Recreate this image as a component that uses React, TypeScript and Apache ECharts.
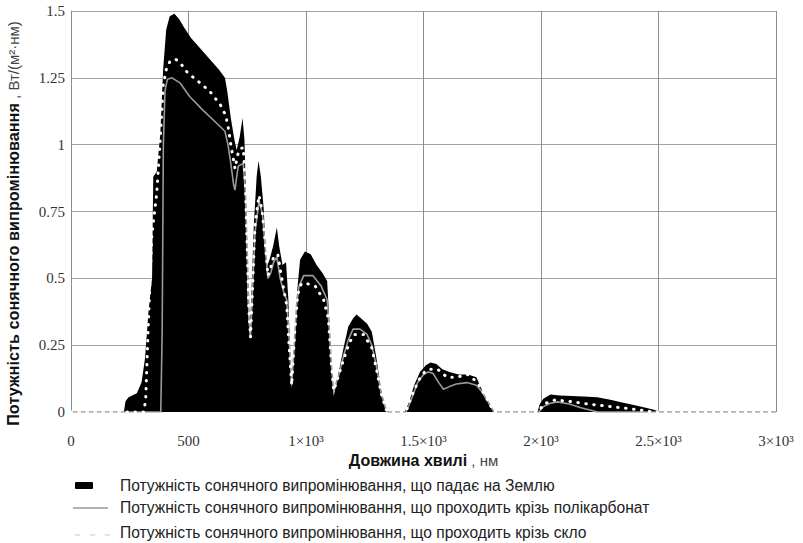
import React, { useEffect, useRef } from "react";
import * as echarts from "echarts";

const xTicks = [0, 500, 1000, 1500, 2000, 2500, 3000];
const xTickLabels = ["0", "500", "1×10³", "1.5×10³", "2×10³", "2.5×10³", "3×10³"];

const legendNames = [
  "Потужність сонячного випромінювання, що падає на Землю",
  "Потужність сонячного випромінювання, що проходить крізь полікарбонат",
  "Потужність сонячного випромінювання, що проходить крізь скло",
];

// Earth (black area)
const earth: number[][] = [
  [0, 0], [225, 0], [232, 0.04], [245, 0.055], [280, 0.07], [300, 0.11], [315, 0.2], [330, 0.38], [345, 0.5],
  [350, 0.88], [365, 0.9], [380, 1.04], [392, 1.28], [405, 1.43], [420, 1.48], [440, 1.49], [460, 1.47],
  [480, 1.44], [510, 1.4], [540, 1.37], [570, 1.34], [600, 1.31], [630, 1.28], [655, 1.25], [665, 1.2],
  [680, 1.1], [695, 1.02], [705, 0.98], [718, 1.03], [730, 1.1], [738, 1.02], [745, 0.8], [752, 0.4],
  [760, 0.28], [768, 0.45], [778, 0.7], [790, 0.88], [798, 0.94], [808, 0.88], [820, 0.76], [832, 0.54],
  [845, 0.57], [860, 0.62], [876, 0.69], [886, 0.62], [900, 0.55], [915, 0.56], [925, 0.42], [933, 0.2],
  [940, 0.09], [950, 0.25], [962, 0.45], [975, 0.57], [995, 0.6], [1020, 0.59], [1045, 0.55], [1070, 0.52],
  [1090, 0.49], [1100, 0.33], [1110, 0.15], [1118, 0.06], [1135, 0.13], [1160, 0.24], [1180, 0.32],
  [1200, 0.35], [1215, 0.365], [1235, 0.35], [1260, 0.33], [1280, 0.3], [1300, 0.2], [1320, 0.08],
  [1340, 0.01], [1350, 0], [1420, 0], [1440, 0.04], [1460, 0.1], [1485, 0.15], [1510, 0.175], [1530, 0.185],
  [1555, 0.18], [1580, 0.16], [1610, 0.15], [1650, 0.14], [1690, 0.14], [1725, 0.13], [1740, 0.1],
  [1760, 0.06], [1785, 0.02], [1800, 0], [1985, 0], [1995, 0.03], [2010, 0.05], [2040, 0.065], [2080, 0.062],
  [2130, 0.06], [2180, 0.058], [2240, 0.055], [2300, 0.045], [2350, 0.035], [2400, 0.025], [2450, 0.015],
  [2480, 0.008], [2510, 0], [3000, 0],
];

// Through polycarbonate (gray line)
const polycarbonate: number[][] = [
  [0, 0], [382, 0], [388, 0.3], [393, 1.0], [400, 1.2], [410, 1.245], [430, 1.25], [465, 1.23], [505, 1.18],
  [560, 1.13], [620, 1.08], [655, 1.05], [668, 1.0], [680, 0.93], [692, 0.85], [698, 0.83], [705, 0.88],
  [712, 0.92], [733, 0.93], [742, 0.82], [750, 0.6], [758, 0.35], [764, 0.28], [772, 0.45], [783, 0.67],
  [800, 0.79], [815, 0.74], [828, 0.6], [838, 0.5], [850, 0.52], [862, 0.56], [876, 0.58], [890, 0.5],
  [905, 0.45], [918, 0.42], [928, 0.28], [939, 0.1], [950, 0.25], [960, 0.4], [970, 0.47], [990, 0.51],
  [1030, 0.51], [1065, 0.47], [1090, 0.42], [1100, 0.3], [1110, 0.15], [1118, 0.08], [1140, 0.14],
  [1160, 0.21], [1180, 0.27], [1200, 0.31], [1230, 0.31], [1260, 0.29], [1280, 0.25], [1300, 0.17],
  [1320, 0.07], [1340, 0.01], [1350, 0], [1425, 0], [1445, 0.04], [1475, 0.11], [1500, 0.14], [1520, 0.15],
  [1540, 0.145], [1565, 0.11], [1585, 0.085], [1610, 0.095], [1640, 0.105], [1685, 0.11], [1725, 0.1],
  [1745, 0.08], [1770, 0.045], [1800, 0], [1990, 0], [2010, 0.02], [2040, 0.033], [2070, 0.038],
  [2120, 0.03], [2170, 0.016], [2220, 0.005], [2240, 0], [3000, 0],
];

// Through glass (white dotted line)
const glass: number[][] = [
  [0, 0], [310, 0], [318, 0.05], [328, 0.3], [344, 0.66], [365, 0.82], [380, 1.02], [392, 1.22], [405, 1.28],
  [420, 1.31], [445, 1.32], [470, 1.3], [495, 1.27], [550, 1.23], [590, 1.2], [635, 1.15], [658, 1.11],
  [670, 1.06], [680, 1.0], [690, 0.95], [698, 0.91], [706, 0.95], [715, 0.98], [733, 0.99], [742, 0.85],
  [750, 0.6], [757, 0.38], [764, 0.28], [772, 0.45], [783, 0.7], [800, 0.81], [812, 0.76], [825, 0.65],
  [838, 0.51], [850, 0.54], [862, 0.58], [880, 0.59], [893, 0.52], [905, 0.46], [918, 0.4], [928, 0.25],
  [939, 0.1], [952, 0.3], [965, 0.44], [980, 0.48], [1005, 0.48], [1040, 0.47], [1075, 0.42], [1095, 0.35],
  [1108, 0.18], [1118, 0.08], [1140, 0.14], [1165, 0.21], [1185, 0.26], [1205, 0.29], [1245, 0.29],
  [1280, 0.24], [1300, 0.16], [1320, 0.07], [1340, 0.01], [1350, 0], [1425, 0], [1445, 0.05], [1480, 0.12],
  [1505, 0.15], [1525, 0.16], [1560, 0.16], [1600, 0.13], [1640, 0.13], [1690, 0.14], [1730, 0.11],
  [1750, 0.08], [1770, 0.05], [1800, 0], [1990, 0], [2010, 0.03], [2060, 0.045], [2120, 0.04], [2200, 0.03],
  [2300, 0.02], [2400, 0.01], [2480, 0], [3000, 0],
];

const SANS = "'Liberation Sans', Arial, sans-serif";
const SERIF = "'Liberation Serif', 'Times New Roman', serif";

export default function App() {
  const ref = useRef<HTMLDivElement>(null);
  useEffect(() => {
    if (!ref.current) return;
    const chart = echarts.init(ref.current, null, { renderer: "svg" });
    const legendY = [485, 507, 532];
    chart.setOption({
      animation: false,
      backgroundColor: "#fff",
      grid: { left: 71, right: 27, top: 11, bottom: 131, outerBoundsMode: "none", containLabel: false },
      xAxis: {
        type: "value",
        min: 0,
        max: 3000,
        interval: 500,
        name: "{b|Довжина хвилі}{n| , нм}",
        nameLocation: "middle",
        nameGap: 39,
        nameTextStyle: {
          rich: {
            b: { fontFamily: SANS, fontWeight: "bold", fontSize: 16, color: "#111" },
            n: { fontFamily: SANS, fontSize: 15, color: "#444" },
          },
        },
        axisLine: { show: false },
        axisTick: { show: false },
        axisLabel: {
          margin: 21,
          fontFamily: SERIF,
          fontSize: 15,
          color: "#333",
          formatter: (v: number) => {
            const i = xTicks.indexOf(v);
            return i >= 0 ? xTickLabels[i] : "";
          },
        },
        splitLine: { show: true, lineStyle: { color: "#8c8c8c", width: 1 } },
      },
      yAxis: {
        type: "value",
        min: 0,
        max: 1.5,
        interval: 0.25,
        name: "{b|Потужність сонячного випромінювання}{n| , Вт/(м²·нм)}",
        nameLocation: "middle",
        nameRotate: 90,
        nameGap: 50,
        nameTextStyle: {
          padding: [0, 24, 0, 0],
          rich: {
            b: { fontFamily: SANS, fontWeight: "bold", fontSize: 16.3, color: "#111" },
            n: { fontFamily: SANS, fontSize: 15, color: "#444" },
          },
        },
        axisLine: { show: true, lineStyle: { color: "#8c8c8c", width: 1 } },
        axisTick: { show: false },
        axisLabel: { margin: 6, fontFamily: SERIF, fontSize: 15, color: "#333" },
        splitLine: { show: true, showMinLine: false, lineStyle: { color: "#a0a0a0", width: 1 } },
      },
      series: [
        {
          name: legendNames[0],
          type: "line",
          data: earth,
          symbol: "none",
          lineStyle: { width: 0, color: "#000" },
          areaStyle: { color: "#000", opacity: 1 },
          z: 2,
        },
        {
          name: legendNames[1],
          type: "line",
          data: polycarbonate,
          symbol: "none",
          lineStyle: { width: 1.6, color: "#9a9a9a" },
          z: 3,
        },
        {
          name: legendNames[2],
          type: "line",
          data: glass,
          symbol: "none",
          lineStyle: { width: 3, color: "#ffffff", type: [0.5, 7.5], cap: "round" },
          z: 4,
        },
      ],
      graphic: [
        { type: "rect", shape: { x: 75, y: 482, width: 18, height: 7, r: 1 }, style: { fill: "#000" } },
        { type: "line", shape: { x1: 73, y1: 508, x2: 108, y2: 508 }, style: { stroke: "#999", lineWidth: 1.5 } },
        {
          type: "line",
          shape: { x1: 75, y1: 535, x2: 112, y2: 535 },
          style: { stroke: "#c8c8c8", lineWidth: 1.2, lineDash: [5, 10] },
        },
        ...legendNames.map((t, i) => ({
          type: "text",
          x: 120,
          y: legendY[i],
          style: {
            text: t,
            fontFamily: SANS,
            fontSize: 15.6,
            fill: "#222",
            verticalAlign: "middle",
            align: "left",
          },
        })),
      ],
    });
    return () => chart.dispose();
  }, []);
  return (
    <div
      ref={ref}
      style={{ position: "absolute", left: 0, top: 0, width: 803, height: 543 }}
    />
  );
}
